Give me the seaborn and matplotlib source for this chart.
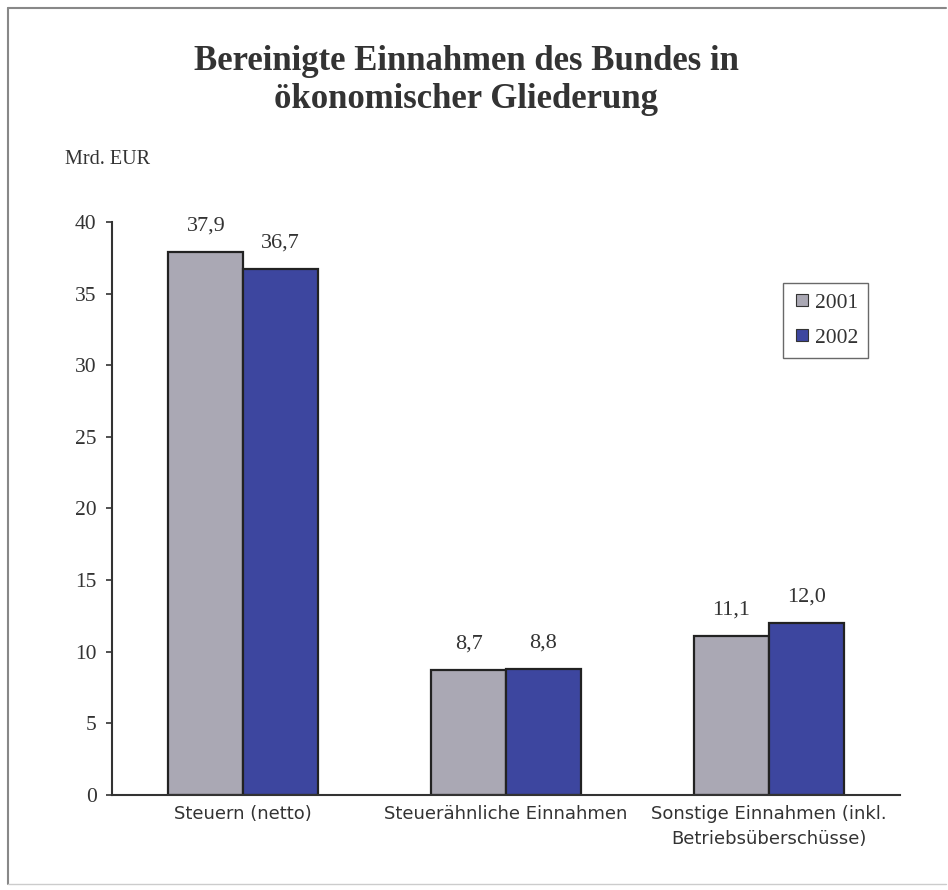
import matplotlib
matplotlib.use("Agg")
import matplotlib.pyplot as plt
import seaborn as sns
import pandas as pd
from matplotlib.lines import Line2D

categories = ["Steuern (netto)", "Steuerähnliche Einnahmen",
              "Sonstige Einnahmen (inkl.\nBetriebsüberschüsse)"]
years = ["2001", "2002"]
values_2001 = [37.9, 8.7, 11.1]
values_2002 = [36.7, 8.8, 12.0]
value_labels_2001 = ["37,9", "8,7", "11,1"]
value_labels_2002 = ["36,7", "8,8", "12,0"]
yticks = [0, 5, 10, 15, 20, 25, 30, 35, 40]

df = pd.DataFrame({
    "Kategorie": categories * 2,
    "Jahr": [years[0]] * 3 + [years[1]] * 3,
    "Wert": values_2001 + values_2002,
})

sns.set_theme(style="white")
plt.rcParams["font.family"] = ["Liberation Serif", "DejaVu Serif"]

colors = {"2001": "#aaa8b4", "2002": "#3d469f"}
txt = "#333333"

fig = plt.figure(figsize=(9.48, 8.9), dpi=100)
ax = fig.add_axes([112 / 948, 1 - 795 / 890, (900 - 112) / 948, (795 - 222) / 890])

sns.barplot(data=df, x="Kategorie", y="Wert", hue="Jahr", order=categories,
            hue_order=years, palette=colors, width=0.57, edgecolor="#222222",
            linewidth=1.6, saturation=1, ax=ax, legend=False)

ax.set_xlim(-0.5, 2.5)
ax.set_ylim(0, 40)
ax.set_yticks(yticks)
ax.set_yticklabels([str(t) for t in yticks], fontsize=15.5, color=txt)
ax.tick_params(axis="y", length=4, width=1.2, color=txt, left=True, pad=7)
ax.tick_params(axis="x", length=0, pad=7)
ax.set_xticks(range(len(categories)))
ax.set_xticklabels(categories, fontsize=13, color=txt, family=["DejaVu Sans"],
                   linespacing=1.5)
ax.set_xlabel("")
ax.set_ylabel("")
for s in ["top", "right"]:
    ax.spines[s].set_visible(False)
for s in ["left", "bottom"]:
    ax.spines[s].set_color(txt)
    ax.spines[s].set_linewidth(1.5)

# value labels
for container, labs in zip(ax.containers, [value_labels_2001, value_labels_2002]):
    ax.bar_label(container, labels=labs, padding=12, fontsize=16, color=txt)

# legend
handles = [Line2D([0], [0], marker="s", linestyle="none", markersize=8,
                  markerfacecolor=colors[y], markeredgecolor="#333333",
                  markeredgewidth=0.8) for y in years]
leg = ax.legend(handles, years, loc="upper left",
                bbox_to_anchor=(671 / 788, 1 - (283 - 222) / 573),
                borderaxespad=0,
                frameon=True, fancybox=False, fontsize=15.5, handletextpad=0.15,
                handlelength=0.9, borderpad=0.45, labelspacing=0.7)
leg.get_frame().set_edgecolor("#444444")
leg.get_frame().set_linewidth(1.0)
for t in leg.get_texts():
    t.set_color(txt)

# title and unit
fig.text(466 / 948, 1 - 62 / 890, "Bereinigte Einnahmen des Bundes in",
         ha="center", va="center", fontsize=25, fontweight="bold", color=txt)
fig.text(466 / 948, 1 - 100 / 890, "ökonomischer Gliederung",
         ha="center", va="center", fontsize=25, fontweight="bold", color=txt)
fig.text(65 / 948, 1 - 160 / 890, "Mrd. EUR", ha="left", va="center",
         fontsize=14.5, color=txt)

# figure frame
fig.add_artist(Line2D([8 / 948, 8 / 948], [1 - 8 / 890, 1 - 884 / 890],
                      transform=fig.transFigure, color="#888888", linewidth=1.5))
fig.add_artist(Line2D([8 / 948, 946 / 948], [1 - 8 / 890, 1 - 8 / 890],
                      transform=fig.transFigure, color="#888888", linewidth=1.5))
fig.add_artist(Line2D([8 / 948, 946 / 948], [1 - 884 / 890, 1 - 884 / 890],
                      transform=fig.transFigure, color="#cccccc", linewidth=1.0))

fig.savefig("out.png", dpi=100)
